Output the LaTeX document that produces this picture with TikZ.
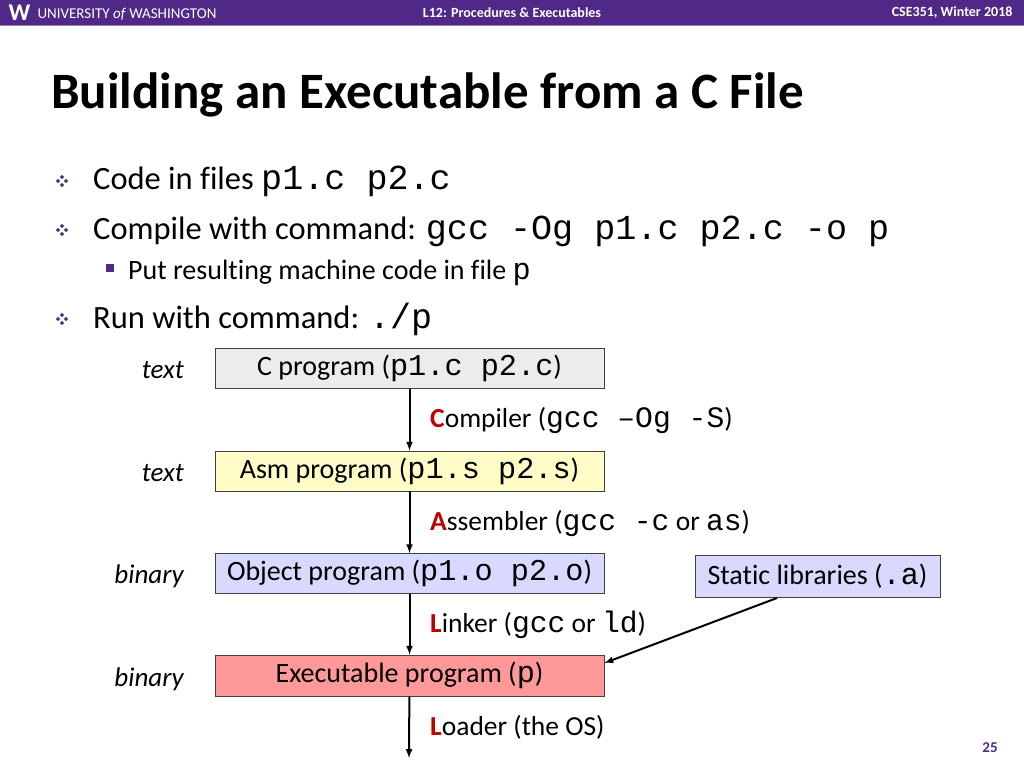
\documentclass[tikz,border=0pt]{standalone}
\usepackage{fontspec}
\setmainfont[Ligatures=NoCommon]{Carlito}
\setmonofont[Scale=1.08]{Liberation Mono}
\definecolor{uwp}{RGB}{75,46,131}
\definecolor{hdr}{RGB}{80,40,135}
\definecolor{red1}{RGB}{192,0,0}
\begin{document}
\begin{tikzpicture}[x=1pt,y=-1pt,
 box/.style={draw=black!75,line width=0.8pt,minimum width=389pt,minimum height=40pt,inner sep=0pt,font=\fontsize{28}{30}\selectfont},
 lab/.style={anchor=base west,inner sep=0pt,font=\fontsize{27.5}{30}\selectfont},
 side/.style={anchor=base east,inner sep=0pt,font=\fontsize{27}{28}\selectfont\itshape},
 arr/.style={-latex,line width=2pt},
 btxt/.style={anchor=base west,inner sep=0pt,font=\fontsize{32.5}{36}\selectfont}]
\useasboundingbox (0,0) rectangle (1024,768);
\fill[hdr] (0,0) rectangle (1024,25);
\fill[uwp!60] (0,25) rectangle (1024,26.5);
\node[anchor=base west,text=white,font=\fontsize{24}{24}\selectfont\bfseries] (w) at (5,21) {W};
\node[anchor=base west,text=white,font=\fontsize{15}{15}\selectfont] (uw) at (34,19) {UNIVERSITY \textit{of} WASHINGTON};
\node[text=white,font=\fontsize{14}{14}\selectfont\bfseries] (lec) at (512,13) {L12: Procedures \& Executables};
\node[anchor=east,text=white,font=\fontsize{14}{14}\selectfont\bfseries] (crs) at (1016,13) {CSE351, Winter 2018};
\node[anchor=base west,inner sep=0pt,font=\fontsize{51}{54}\selectfont\bfseries] (title) at (51,108) {Building an Executable from a C File};
\foreach \y in {181,230,319}{
 \foreach \dx/\dy in {0/-4,0/4,-4/0,4/0}
  \fill[uwp] (62+\dx,\y+\dy) +(0,-2.2) -- +(2.2,0) -- +(0,2.2) -- +(-2.2,0) -- cycle;
}
\fill[uwp] (106,264) rectangle (114,272);
\node[btxt] (b1) at (93,189) {Code in files \texttt{p1.c p2.c}};
\node[btxt] (b2) at (93,239) {Compile with command: \texttt{gcc -Og p1.c p2.c -o p}};
\node[anchor=base west,inner sep=0pt,font=\fontsize{28}{30}\selectfont] (b3) at (128,279) {Put resulting machine code in file \texttt{p}};
\node[btxt] (b4) at (93,328) {Run with command: \texttt{./p}};
\node[box,fill=gray!15] (c) at (409.5,368.5) {C program (\texttt{p1.c p2.c})};
\node[box,fill=yellow!22] (s) at (409.5,471) {Asm program (\texttt{p1.s p2.s})};
\node[box,fill=blue!15] (o) at (409.5,573.5) {Object program (\texttt{p1.o p2.o})};
\node[box,fill=red!40,minimum height=41pt] (e) at (409.5,675.5) {Executable program (\texttt{p})};
\node[box,fill=blue!15,minimum width=245pt,minimum height=42pt] (lib) at (817.5,576) {Static libraries (\texttt{.a})};
\coordinate (end) at (409,758);
\coordinate (libo) at (777,598);
\draw[arr] (c) -- (s);
\draw[arr] (s) -- (o);
\draw[arr] (o) -- (e);
\draw[arr] (e) -- (end);
\draw[arr] (libo) -- (e.east |- 0,663);
\node[side] (t1) at (184,378) {text};
\node[side] (t2) at (184,481) {text};
\node[side] (t3) at (184,583) {binary};
\node[side] (t4) at (184,686) {binary};
\node[lab] (l1) at (430,427) {\textcolor{red1}{\textbf{C}}ompiler (\texttt{gcc –Og -S})};
\node[lab] (l2) at (430,530) {\textcolor{red1}{\textbf{A}}ssembler (\texttt{gcc -c} or \texttt{as})};
\node[lab] (l3) at (430,632) {\textcolor{red1}{\textbf{L}}inker (\texttt{gcc} or \texttt{ld})};
\node[lab] (l4) at (430,735) {\textcolor{red1}{\textbf{L}}oader (the OS)};
\node[font=\fontsize{15}{15}\selectfont\bfseries,text=uwp] (pg) at (990,748) {25};
\end{tikzpicture}
\end{document}
